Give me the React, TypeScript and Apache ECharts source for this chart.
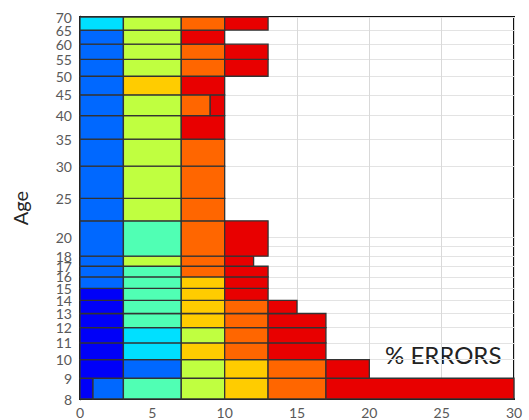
import React, { useEffect, useRef } from "react";
import * as echarts from "echarts";

// Age band boundaries (rows run from ageBounds[i] to ageBounds[i+1])
const ageBounds = [8, 9, 10, 11, 12, 13, 14, 15, 16, 17, 18, 22, 25, 30, 35, 40, 45, 50, 55, 60, 65, 70];

// Right edge (% errors) of each coloured cell, per row, bottom to top
const rowSegEnds: number[][] = [
  [0.9, 3, 7, 10, 13, 17, 30], // 8-9
  [3, 7, 10, 13, 17, 20], // 9-10
  [3, 7, 10, 13, 17], // 10-11
  [3, 7, 10, 13, 17], // 11-12
  [3, 7, 10, 13, 17], // 12-13
  [3, 7, 10, 13, 15], // 13-14
  [3, 7, 10, 13], // 14-15
  [3, 7, 10, 13], // 15-16
  [3, 7, 10, 13], // 16-17
  [3, 7, 10, 12], // 17-18
  [3, 7, 10, 13], // 18-22
  [3, 7, 10], // 22-25
  [3, 7, 10], // 25-30
  [3, 7, 10], // 30-35
  [3, 7, 10], // 35-40
  [3, 7, 9, 10], // 40-45
  [3, 7, 10], // 45-50
  [3, 7, 10, 13], // 50-55
  [3, 7, 10, 13], // 55-60
  [3, 7, 10], // 60-65
  [3, 7, 10, 13], // 65-70
];

// Colour class of each cell, matching rowSegEnds
const rowSegColors: string[][] = [
  ["dkblue", "blue", "aqua", "lime", "gold", "orange", "red"],
  ["dkblue", "blue", "lime", "gold", "orange", "red"],
  ["dkblue", "cyan", "gold", "orange", "red"],
  ["dkblue", "cyan", "lime", "orange", "red"],
  ["dkblue", "aqua", "gold", "orange", "red"],
  ["dkblue", "aqua", "gold", "orange", "red"],
  ["dkblue", "aqua", "gold", "red"],
  ["blue", "aqua", "gold", "red"],
  ["blue", "aqua", "orange", "red"],
  ["blue", "lime", "orange", "red"],
  ["blue", "aqua", "orange", "red"],
  ["blue", "lime", "orange"],
  ["blue", "lime", "orange"],
  ["blue", "lime", "orange"],
  ["blue", "lime", "red"],
  ["blue", "lime", "orange", "red"],
  ["blue", "gold", "red"],
  ["blue", "lime", "orange", "red"],
  ["blue", "lime", "orange", "red"],
  ["blue", "lime", "red"],
  ["cyan", "lime", "orange", "red"],
];

const yTickValues = [8, 9, 10, 11, 12, 13, 14, 15, 16, 17, 18, 19, 20, 25, 30, 35, 40, 45, 50, 55, 60, 65, 70];
const yLabelValues = [8, 9, 10, 11, 12, 13, 14, 15, 16, 17, 18, 20, 25, 30, 35, 40, 45, 50, 55, 60];
const yLabel65 = [65];
const yLabel70 = [70];
const xTicks = [0, 5, 10, 15, 20, 25, 30];

const palette: Record<string, string> = {
  dkblue: "#0000F8",
  blue: "#0068FF",
  cyan: "#00E0FF",
  aqua: "#50FFB4",
  lime: "#C0FF40",
  gold: "#FFCC00",
  orange: "#FF6600",
  red: "#E80000",
};

export default function App() {
  const ref = useRef<HTMLDivElement>(null);
  useEffect(() => {
    if (!ref.current) return;
    const chart = echarts.init(ref.current, undefined, { renderer: "svg" });

    const data: any[] = [];
    rowSegEnds.forEach((ends, r) => {
      let start = 0;
      ends.forEach((end, s) => {
        data.push({
          value: [start, end, ageBounds[r], ageBounds[r + 1]],
          itemStyle: { color: palette[rowSegColors[r][s]] },
        });
        start = end;
      });
    });

    const labelFont = { fontFamily: "Lato, 'Open Sans', sans-serif", fontSize: 14, color: "#595959" };
    const yMin = ageBounds[0];
    const yMax = ageBounds[ageBounds.length - 1];
    const labelOnlyAxis = (vals: number[]) => ({
      type: "log",
      logBase: 10,
      min: yMin,
      max: yMax,
      position: "left",
      offset: 0,
      axisLine: { show: false },
      axisTick: { show: false },
      splitLine: { show: false },
      axisLabel: { ...labelFont, margin: 8, customValues: vals, showMaxLabel: true, showMinLabel: true },
    });

    chart.setOption({
      animation: false,
      grid: {
        left: 80,
        right: 15,
        top: 17,
        bottom: 21,
        show: true,
        borderColor: "#111",
        borderWidth: 2,
        backgroundColor: "transparent",
      },
      xAxis: {
        type: "value",
        min: xTicks[0],
        max: xTicks[xTicks.length - 1],
        interval: 5,
        axisLine: { show: true, lineStyle: { color: "#000", width: 2 } },
        axisTick: { show: false },
        axisLabel: { ...labelFont, margin: 6, showMaxLabel: true, showMinLabel: true },
        splitLine: { show: true, lineStyle: { color: "#D9D9D9", width: 1 } },
      },
      yAxis: [
        {
          type: "log",
          logBase: 10,
          min: yMin,
          max: yMax,
          name: "Age",
          nameLocation: "middle",
          nameGap: 50,
          nameRotate: 90,
          nameTextStyle: { fontFamily: "Lato, 'Open Sans', sans-serif", fontSize: 20, color: "#262626" },
          axisLine: { show: true, lineStyle: { color: "#000", width: 2.5 } },
          axisTick: { show: false, customValues: yTickValues },
          axisLabel: {
            ...labelFont,
            margin: 8,
            customValues: yLabelValues,
            showMaxLabel: true,
            showMinLabel: true,
            hideOverlap: false,
          },
          splitLine: { show: true, lineStyle: { color: "#E3E3E3", width: 1 } },
        },
        labelOnlyAxis(yLabel65),
        labelOnlyAxis(yLabel70),
      ],
      graphic: [
        {
          type: "text",
          left: 385,
          top: 342,
          style: {
            text: "% ERRORS",
            fontFamily: "Lato, 'Open Sans', sans-serif",
            fontSize: 24,
            fill: "#222",
          },
        },
      ],
      series: [
        {
          type: "custom",
          yAxisIndex: 0,
          encode: { x: [0, 1], y: [2, 3] },
          renderItem: (params: any, api: any) => {
            const p0 = api.coord([api.value(0), api.value(3)]);
            const p1 = api.coord([api.value(1), api.value(2)]);
            return {
              type: "rect",
              shape: { x: p0[0], y: p0[1], width: p1[0] - p0[0], height: p1[1] - p0[1] },
              style: { fill: api.visual("color"), stroke: "#333", lineWidth: 1.3 },
            };
          },
          data,
        },
      ],
    });
    return () => chart.dispose();
  }, []);
  return <div ref={ref} style={{ width: 529, height: 420, position: "absolute", left: 0, top: 0 }} />;
}
